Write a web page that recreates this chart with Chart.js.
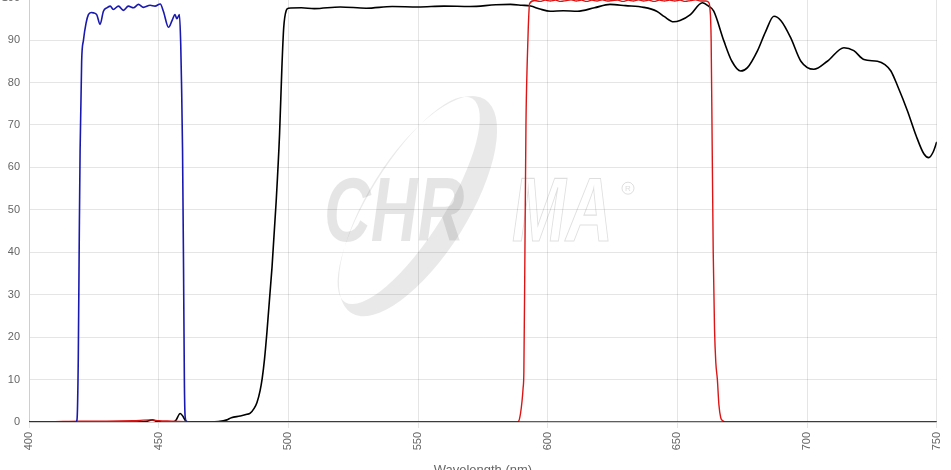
<!DOCTYPE html>
<html lang="en">
<head>
    <meta charset="UTF-8">
    <title>Transmission spectrum</title>
    <script src="https://cdn.jsdelivr.net/npm/chart.js"></script>
    <style>
        body {
            margin: 0;
            overflow: hidden;
            background: #fff;
        }
        .wrap {
            position: absolute;
            left: 0;
            top: -18px;
            width: 954px;
            height: 497px;
        }
    </style>
</head>
<body>
    <div class="wrap"><canvas id="specChart"></canvas></div>

    <script>
        // Axis ticks
        const xTicks = [400, 450, 500, 550, 600, 650, 700, 750];
        const yTicks = [0, 10, 20, 30, 40, 50, 60, 70, 80, 90, 100];

        // Blue filter (excitation)
        const blueNm = [400, 410, 418, 418.5, 419, 419.4, 419.7, 420.3, 421, 422, 422.9, 424, 424.8, 426.1, 427.4,
            428.7, 430, 431.3, 432.5, 434.5, 436.4, 438.3, 440.3, 442.2, 444.1, 446.7, 448.6, 450.6, 451.8,
            453.8, 455.1, 456.3, 457, 458, 458.5, 458.8, 459.2, 459.6, 459.9, 460.2, 460.9, 470, 550, 650, 750];
        const blueT = [0, 0, 0, 0.5, 15, 45, 64, 85, 90, 94, 96, 96.5, 96.4, 96, 93.7,
            96.8, 97.6, 98, 97.2, 98, 97, 98, 97.6, 98.4, 97.7, 98.2, 98, 98.5, 96.8,
            93, 94.5, 96, 95, 96, 89, 80, 64, 35, 10, 1.3, 0, 0, 0, 0, 0];

        // Black filter (dichroic)
        const blackNm = [400, 440, 445, 447.5, 449, 451, 455, 456.5, 458.3, 459.5, 460.5, 462, 470, 473, 476.3,
            478, 481.4, 484, 485.3, 486.8, 487.9, 489.1, 489.9, 490.8, 491.7, 493.7, 495.3, 496.6, 497.5, 498.2,
            499.2, 500, 505, 510, 520, 530, 540, 550, 560, 570, 580, 585.6, 590, 593.4, 597, 601, 606, 611.5,
            618, 624, 630, 637, 642, 645, 648.5, 651, 655, 659.6, 662, 664, 667.9, 671, 674.4, 677, 680.8,
            684, 687.2, 690, 693.7, 697.6, 702.6, 707.8, 714.2, 718, 721.9, 727.1, 730, 732.3, 735, 738.7,
            742, 745, 746.9, 748.5, 750];
        const blackT = [0, 0, 0.1, 0.5, 0.2, 0, 0, 0.3, 2, 1.2, 0.2, 0, 0, 0.1, 0.5,
            1, 1.4, 1.8, 2.1, 3.2, 4.6, 7.4, 10.2, 14.8, 20.9, 36.5, 52, 67.8, 83.5, 92.9,
            97, 97.5, 97.6, 97.4, 97.8, 97.5, 97.9, 97.8, 98, 97.9, 98.3, 98.4, 98.2, 98, 97.3, 96.8, 96.9, 96.8,
            97.6, 98.4, 98.1, 97.7, 96.8, 95.5, 94.3, 94.6, 96, 98.8, 98, 96.8, 89.8, 85, 82.7, 83.5, 87.4,
            92, 95.6, 94.5, 90.5, 85, 83.1, 85, 88.2, 87.5, 85.4, 85, 84.2, 82.7, 79, 73.3,
            67.5, 63.2, 62.3, 63.5, 66];

        // Red filter (emission)
        const redNm = [400, 410, 420, 430, 440, 447, 450, 455, 460, 465, 588, 588.8, 589.5, 590.1, 590.5,
            590.8, 591.2, 591.6, 592.1, 592.5, 593, 595, 597, 599, 601, 603, 605, 607, 609, 611, 613, 615,
            617, 619, 621, 623, 625, 627, 629, 631, 633, 635, 637, 639, 641, 643, 645, 647, 649, 651, 653,
            655, 657, 659, 661, 662, 662.5, 663, 663.4, 663.8, 664.3, 664.8, 665.4, 666, 666.7, 667.5, 668.6, 750];
        const redT = [0, 0.1, 0.2, 0.2, 0.3, 0.5, 0.3, 0.2, 0.1, 0, 0, 0.2, 2, 5, 8,
            12, 40, 70, 85, 93, 98.6, 99.3, 99.1, 99.4, 99.2, 99.4, 99.1, 99.3, 99.5, 99.2, 99.4, 99.1,
            99.4, 99.2, 99.5, 99.2, 99.3, 99.4, 99.1, 99.4, 99.2, 99.5, 99.2, 99.4, 99.1, 99.4, 99.2, 99.4, 99.2, 99.4, 99.1,
            99.3, 99.5, 99.2, 99.2, 98.9, 97.6, 90, 65, 40, 22, 14, 10, 4, 1, 0.3, 0, 0];

        const toPoints = (xs, ys) => xs.map((x, i) => ({ x: x, y: ys[i] }));

        // Watermark logo behind the curves
        const watermark = {
            id: "watermark",
            beforeDatasetsDraw(chart) {
                const ctx = chart.ctx;
                const a = chart.chartArea;
                const X = px => a.left + (px - 29);
                const Y = py => a.top + (py + 3.6);
                ctx.save();

                // swoosh
                const rot = -58 * Math.PI / 180;
                const cx = X(418), cy = Y(205);
                const ix = cx - 0.848 * 11, iy = cy - 0.53 * 11;
                ctx.beginPath();
                ctx.moveTo(cx + 126 * Math.cos(rot), cy + 126 * Math.sin(rot));
                ctx.ellipse(cx, cy, 126, 50, rot, 0, Math.PI * 2);
                ctx.moveTo(ix + 120 * Math.cos(rot), iy + 120 * Math.sin(rot));
                ctx.ellipse(ix, iy, 120, 37.5, rot, 0, Math.PI * 2);
                ctx.fillStyle = "rgba(0,0,0,0.085)";
                ctx.fill("evenodd");

                ctx.font = 'italic bold 90px "Liberation Sans", Arial, sans-serif';
                ctx.textBaseline = "alphabetic";

                ctx.save();
                ctx.translate(X(324), Y(240));
                ctx.scale(0.72, 1);
                ctx.fillStyle = "rgba(0,0,0,0.1)";
                ctx.fillText("CHR", 0, 0);
                ctx.restore();

                ctx.save();
                ctx.translate(X(512), Y(240));
                ctx.scale(0.72, 1);
                ctx.lineWidth = 1.2;
                ctx.strokeStyle = "rgba(0,0,0,0.13)";
                ctx.strokeText("MA", 0, 0);
                ctx.restore();

                // registered mark
                ctx.beginPath();
                ctx.arc(X(628), Y(187), 6, 0, Math.PI * 2);
                ctx.lineWidth = 1;
                ctx.strokeStyle = "rgba(0,0,0,0.13)";
                ctx.stroke();
                ctx.font = '8px "Liberation Sans", Arial, sans-serif';
                ctx.textAlign = "center";
                ctx.textBaseline = "middle";
                ctx.fillStyle = "rgba(0,0,0,0.15)";
                ctx.fillText("R", X(628), Y(187.5));
                ctx.restore();
            }
        };

        const tickFont = { family: '"Liberation Sans", Arial, sans-serif', size: 11 };

        new Chart(document.getElementById("specChart"), {
            type: "line",
            data: {
                datasets: [
                    {
                        label: "Excitation",
                        data: toPoints(blueNm, blueT),
                        borderColor: "rgb(25, 25, 175)",
                        borderWidth: 1.6
                    },
                    {
                        label: "Emission",
                        data: toPoints(redNm, redT),
                        borderColor: "rgb(220, 20, 20)",
                        borderWidth: 1.4
                    },
                    {
                        label: "Dichroic",
                        data: toPoints(blackNm, blackT),
                        borderColor: "#000",
                        borderWidth: 1.6
                    }
                ]
            },
            options: {
                responsive: true,
                maintainAspectRatio: false,
                animation: false,
                parsing: false,
                elements: {
                    point: { radius: 0 },
                    line: { cubicInterpolationMode: "monotone", fill: false }
                },
                layout: { padding: { top: 9.5, right: 12, left: 0, bottom: 0 } },
                plugins: {
                    legend: { display: false },
                    tooltip: { enabled: false }
                },
                scales: {
                    x: {
                        type: "linear",
                        min: 400,
                        max: 750,
                        afterBuildTicks: s => { s.ticks = xTicks.map(v => ({ value: v })); },
                        afterFit: s => { s.height = 57; },
                        grid: { color: "rgba(0,0,0,0.1)", tickLength: 6 },
                        ticks: {
                            minRotation: 90,
                            maxRotation: 90,
                            padding: 4,
                            color: "#666",
                            font: tickFont
                        },
                        title: {
                            display: true,
                            text: "Wavelength (nm)",
                            color: "#666",
                            padding: { top: 4, bottom: 1 },
                            font: { family: '"Liberation Sans", Arial, sans-serif', size: 13 }
                        }
                    },
                    y: {
                        min: 0,
                        max: 100,
                        afterBuildTicks: s => { s.ticks = yTicks.map(v => ({ value: v })); },
                        afterFit: s => { s.width = 29; },
                        grid: { color: "rgba(0,0,0,0.1)", drawTicks: false },
                        ticks: {
                            padding: 9,
                            color: "#666",
                            font: tickFont
                        }
                    }
                }
            },
            plugins: [watermark]
        });
    </script>
</body>
</html>
